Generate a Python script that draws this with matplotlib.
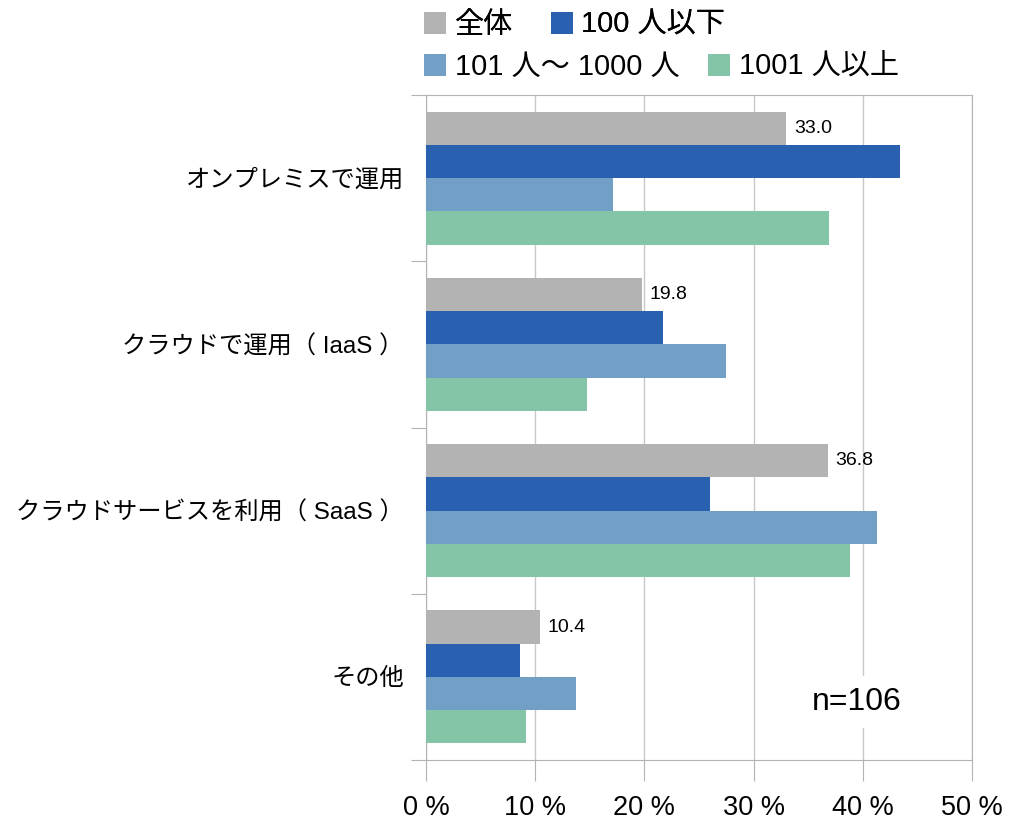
import numpy as np
import matplotlib
matplotlib.use('Agg')
import matplotlib.pyplot as plt

plt.rcParams['font.family'] = ['Liberation Sans', 'Noto Sans CJK JP', 'DejaVu Sans']

categories = ['オンプレミスで運用', 'クラウドで運用（ IaaS ）', 'クラウドサービスを利用（ SaaS ）', 'その他']
series_names = ['全体', '100 人以下', '101 人〜 1000 人', '1001 人以上']
zentai = [33.0, 19.8, 36.8, 10.4]
small = [43.4, 21.7, 26.0, 8.6]
medium = [17.1, 27.5, 41.3, 13.7]
large = [36.9, 14.7, 38.8, 9.2]
colors = ['#b3b3b3', '#2a60b0', '#729fc5', '#83c5a6']
xticks = [0, 10, 20, 30, 40, 50]

fig = plt.figure(figsize=(10.22, 8.32), dpi=100)
ax = fig.add_axes([426/1022, 72/832, 546/1022, 665/832])

y = np.arange(len(categories))
h = 0.2
offsets = [-0.3, -0.1, 0.1, 0.3]
bars = []
for vals, off, c, name in zip([zentai, small, medium, large], offsets, colors, series_names):
    b = ax.barh(y + off, vals, height=h, color=c, label=name, zorder=3)
    bars.append(b)

for yi, v in zip(y, zentai):
    ax.text(v + 0.7, yi - 0.3, f'{v:.1f}', va='center', ha='left', fontsize=14, zorder=4)

ax.set_xlim(0, 50)
ax.set_ylim(3.5, -0.5)
ax.set_xticks(xticks)
ax.set_xticklabels([f'{t} %' for t in xticks], fontsize=19.5)
ax.set_yticks(np.arange(-0.5, 4, 1))
ax.set_yticklabels([])
ax.set_yticks(y, minor=True)
ax.set_yticklabels(categories, minor=True, fontsize=17.5)
ax.tick_params(axis='y', which='minor', length=0, pad=16)
ax.tick_params(axis='y', which='major', length=11, color='#b3b3b3')
ax.tick_params(axis='x', length=15, color='#b3b3b3', pad=10)
ax.grid(axis='x', color='#c8c8c8', lw=1, zorder=0)
for s in ax.spines.values():
    s.set_color('#b3b3b3')

ax.text(39.4, 3.15, 'n=106', fontsize=23, ha='center', va='center', zorder=5,
        bbox=dict(facecolor='white', edgecolor='none', pad=8))

leg1 = fig.legend(handles=bars[:2], labels=series_names[:2], ncol=2, frameon=False,
                  loc='center left', bbox_to_anchor=(424/1022, 1 - 25/832), fontsize=21,
                  handlelength=0.75, handleheight=0.75, handletextpad=0.3,
                  columnspacing=1.3, borderaxespad=0, borderpad=0)
fig.add_artist(leg1)
fig.legend(handles=bars[2:], labels=series_names[2:], ncol=2, frameon=False,
           loc='center left', bbox_to_anchor=(424/1022, 1 - 67/832), fontsize=21,
           handlelength=0.75, handleheight=0.75, handletextpad=0.3,
           columnspacing=1.0, borderaxespad=0, borderpad=0)

fig.savefig('out.png', dpi=100)
